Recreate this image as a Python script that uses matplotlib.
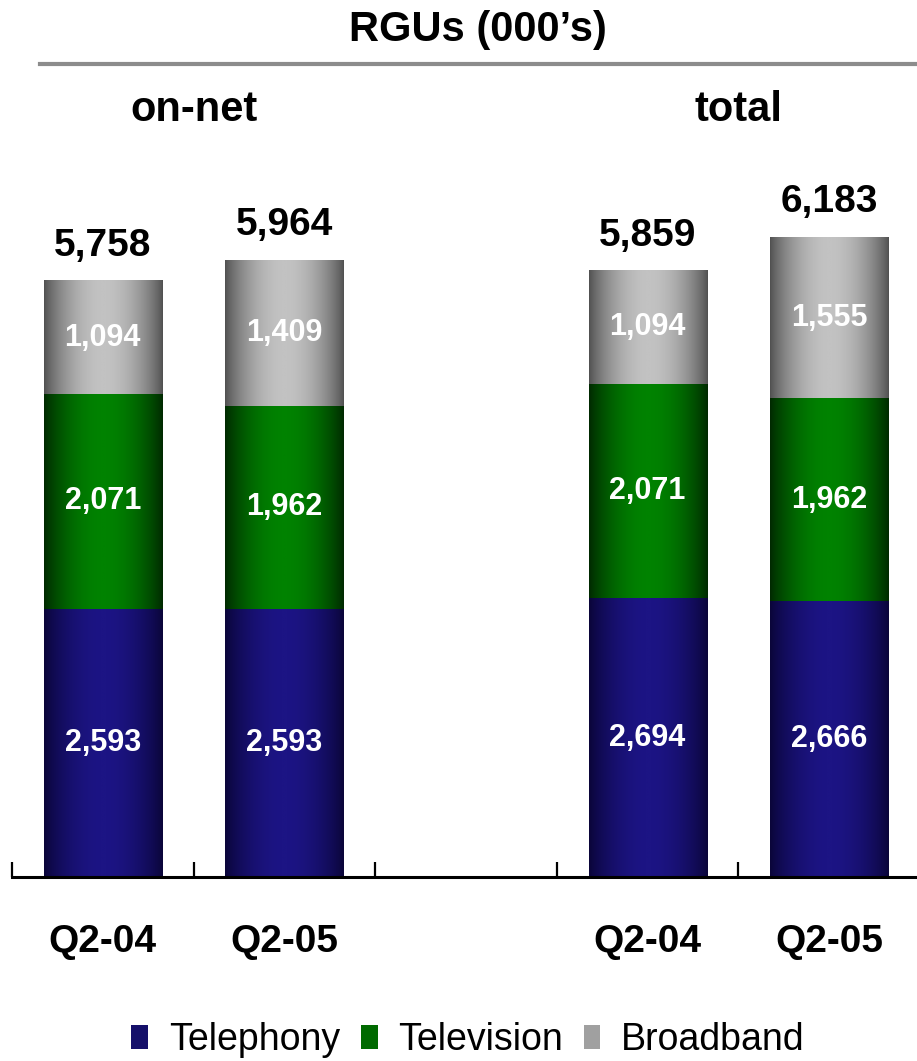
import numpy as np
import matplotlib.pyplot as plt
import matplotlib.transforms as mtransforms
from matplotlib.colors import LinearSegmentedColormap
from matplotlib.lines import Line2D
from matplotlib.patches import Patch

plt.rcParams['font.family'] = ['Liberation Sans', 'DejaVu Sans']

quarters = ['Q2-04', 'Q2-05', 'Q2-04', 'Q2-05']
groups = ['on-net', 'total']
telephony = [2593, 2593, 2694, 2666]
television = [2071, 1962, 2071, 1962]
broadband = [1094, 1409, 1094, 1555]
totals = [5758, 5964, 5859, 6183]

# slot centres: two bars per group, one empty slot between the groups
positions = [0.5, 1.5, 3.5, 4.5]
group_centres = [1.0, 4.0]

series = [
    ('Telephony', telephony, '#0a0538', '#1c1484', '#15106a'),
    ('Television', television, '#002800', '#008200', '#006a00'),
    ('Broadband', broadband, '#505050', '#c2c2c2', '#a0a0a0'),
]


def shaded_bar(ax, patch, edge, centre):
    # horizontal cylinder-like shading across the bar
    u = np.linspace(0, 1, 200)
    f = np.sin(np.pi * u) ** 0.8
    cmap = LinearSegmentedColormap.from_list('shade', [edge, centre])
    x0, y0 = patch.get_x(), patch.get_y()
    ax.imshow(f[np.newaxis, :], cmap=cmap, vmin=0, vmax=1, aspect='auto',
              extent=[x0, x0 + patch.get_width(), y0, y0 + patch.get_height()],
              interpolation='bilinear', zorder=2)


fig = plt.figure(figsize=(9.17, 10.61), dpi=100)
ax = fig.add_axes([12 / 917, 184 / 1061, 908 / 917, 724.5 / 1061])

bottom = np.zeros(len(positions))
for name, vals, edge, centre, _ in series:
    bars = ax.bar(positions, vals, width=0.65, bottom=bottom, color='none', zorder=1)
    for patch, v in zip(bars, vals):
        shaded_bar(ax, patch, edge, centre)
        ax.text(patch.get_x() + patch.get_width() / 2, patch.get_y() + v / 2, f'{v:,}',
                ha='center', va='center', color='white', fontsize=22,
                fontweight='bold', zorder=3)
    bottom += np.array(vals)

for x, t in zip(positions, totals):
    ax.annotate(f'{t:,}', (x, t), xytext=(0, 12), textcoords='offset points',
                ha='center', va='bottom', fontsize=28, fontweight='bold')

ax.set_xlim(0, 5)
ax.set_ylim(0, 7000)
for s in ('top', 'right', 'left'):
    ax.spines[s].set_visible(False)
ax.spines['bottom'].set_linewidth(2.2)
ax.set_yticks([])
ax.set_xticks(range(6))
ax.set_xticklabels([])
ax.tick_params(axis='x', which='major', direction='in', length=11, width=1.6)
ax.set_xticks(positions, minor=True)
ax.set_xticklabels(quarters, minor=True, fontsize=28, fontweight='bold')
ax.tick_params(axis='x', which='minor', length=0, pad=34)

# group headers: x in data units, y in figure units
trans = mtransforms.blended_transform_factory(ax.transData, fig.transFigure)
for gx, g in zip(group_centres, groups):
    fig.text(gx, 1 - 110 / 1061, g, transform=trans, ha='center', va='center',
             fontsize=30, fontweight='bold')

fig.text(478 / 917, 1 - 30 / 1061, 'RGUs (000\u2019s)', ha='center', va='center',
         fontsize=30, fontweight='bold')
fig.add_artist(Line2D([40 / 917, 1], [1 - 64 / 1061] * 2, color='#8c8c8c', lw=3,
                      transform=fig.transFigure))

handles = [Patch(facecolor=mid, edgecolor='none', label=name)
           for name, _, _, _, mid in series]
fig.legend(handles=handles, loc='center', bbox_to_anchor=(468 / 917, 1 - 1040 / 1061),
           ncol=3, frameon=False, fontsize=27, handlelength=0.45, handleheight=0.6,
           handletextpad=0.55, columnspacing=0.55, borderpad=0)

fig.savefig('out.png', dpi=100)
